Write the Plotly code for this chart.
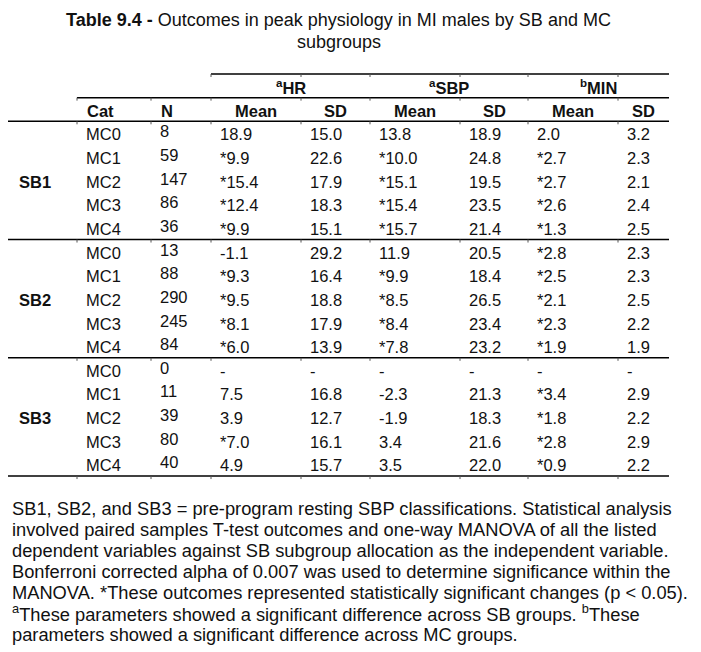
import plotly.graph_objects as go

# ---------------- data ----------------
title_bold = "Table 9.4 -"
title_rest = " Outcomes in peak physiology in MI males by SB and MC"
title_line2 = "subgroups"

sb_groups = ["SB1", "SB2", "SB3"]
cats = ["MC0", "MC1", "MC2", "MC3", "MC4"]
n_vals = [[8, 59, 147, 86, 36], [13, 88, 290, 245, 84], [0, 11, 39, 80, 40]]

hr_mean = [[18.9, 9.9, 15.4, 12.4, 9.9], [-1.1, 9.3, 9.5, 8.1, 6.0], [None, 7.5, 3.9, 7.0, 4.9]]
hr_sig = [[0, 1, 1, 1, 1], [0, 1, 1, 1, 1], [0, 0, 0, 1, 0]]
hr_sd = [[15.0, 22.6, 17.9, 18.3, 15.1], [29.2, 16.4, 18.8, 17.9, 13.9], [None, 16.8, 12.7, 16.1, 15.7]]

sbp_mean = [[13.8, 10.0, 15.1, 15.4, 15.7], [11.9, 9.9, 8.5, 8.4, 7.8], [None, -2.3, -1.9, 3.4, 3.5]]
sbp_sig = [[0, 1, 1, 1, 1], [0, 1, 1, 1, 1], [0, 0, 0, 0, 0]]
sbp_sd = [[18.9, 24.8, 19.5, 23.5, 21.4], [20.5, 18.4, 26.5, 23.4, 23.2], [None, 21.3, 18.3, 21.6, 22.0]]

min_mean = [[2.0, 2.7, 2.7, 2.6, 1.3], [2.8, 2.5, 2.1, 2.3, 1.9], [None, 3.4, 1.8, 2.8, 0.9]]
min_sig = [[0, 1, 1, 1, 1], [1, 1, 1, 1, 1], [0, 1, 1, 1, 1]]
min_sd = [[3.2, 2.3, 2.1, 2.4, 2.5], [2.3, 2.3, 2.5, 2.2, 1.9], [None, 2.9, 2.2, 2.9, 2.2]]

group_headers = [("a", "HR"), ("a", "SBP"), ("b", "MIN")]
col_headers = ["Cat", "N", "Mean", "SD", "Mean", "SD", "Mean", "SD"]

footnote_lines = [
    "SB1, SB2, and SB3 = pre-program resting SBP classifications. Statistical analysis",
    "involved paired samples T-test outcomes and one-way MANOVA of all the listed",
    "dependent variables against SB subgroup allocation as the independent variable.",
    "Bonferroni corrected alpha of 0.007 was used to determine significance within the",
    "MANOVA. *These outcomes represented statistically significant changes (p < 0.05).",
    "<sup>a</sup>These parameters showed a significant difference across SB groups. <sup>b</sup>These",
    "parameters showed a significant difference across MC groups.",
]

# ---------------- layout / style ----------------
W, H = 701, 652
OFF = 8  # page body margin in the browser
FONT = "Liberation Sans, Arial, sans-serif"
TXT = "#111111"
BODY = 16.5
col_edges = [7, 77, 151, 211, 301, 370, 460, 528, 618, 669]
pad = 7
top = 74.0
row_h = 23.65
text_off = 1.2


def row_center(k):
    return top + (k + 0.5) * row_h + text_off


def line_y(k):
    return top + k * row_h


def fmt(v, sig=0):
    if v is None:
        return "-"
    return ("*" if sig else "") + f"{v:.1f}"


fig = go.Figure()
fig.add_trace(go.Scatter(x=[OFF + 1], y=[OFF + 1], mode="markers",
                         marker=dict(opacity=0), hoverinfo="skip"))

ann = []


def add_text(x, y, text, size=BODY, xanchor="left", yshift=0):
    ann.append(dict(x=x, y=y, xref="x", yref="y", text=text, showarrow=False,
                    xanchor=xanchor, yanchor="middle", yshift=yshift,
                    font=dict(family=FONT, size=size, color=TXT)))


# title
add_text(338, 20, f"<b>{title_bold}</b>{title_rest}", size=18, xanchor="center")
add_text(339, 42, title_line2, size=18, xanchor="center")

# group headers (row 0)
for g, (sup, name) in enumerate(group_headers):
    x0, x1 = col_edges[3 + 2 * g], col_edges[5 + 2 * g]
    add_text((x0 + x1) / 2, row_center(0), f"<b><sup>{sup}</sup>{name}</b>", xanchor="center")

# column headers (row 1)
for c, h in enumerate(col_headers):
    x0, x1 = col_edges[1 + c], col_edges[2 + c]
    if c < 2:
        add_text(x0 + pad + 1, row_center(1), f"<b>{h}</b>")
    else:
        add_text((x0 + x1) / 2, row_center(1), f"<b>{h}</b>", xanchor="center")

# body
for g, sb in enumerate(sb_groups):
    base = 2 + g * len(cats)
    add_text(col_edges[0] + 10, row_center(base + 2), f"<b>{sb}</b>")
    for r, cat in enumerate(cats):
        k = base + r
        yc = row_center(k)
        cells = [
            cat,
            str(n_vals[g][r]),
            fmt(hr_mean[g][r], hr_sig[g][r]),
            fmt(hr_sd[g][r]),
            fmt(sbp_mean[g][r], sbp_sig[g][r]),
            fmt(sbp_sd[g][r]),
            fmt(min_mean[g][r], min_sig[g][r]),
            fmt(min_sd[g][r]),
        ]
        for c, t in enumerate(cells):
            add_text(col_edges[1 + c] + pad, yc, t, yshift=(3 if c == 1 else 0))

# footnote
for i, line in enumerate(footnote_lines):
    add_text(10, 508 + 21 * i, line, size=18.3)

# rules
shapes = []
rules = [(0, col_edges[3]), (1, col_edges[1]), (2, col_edges[0])]
rules += [(2 + (g + 1) * len(cats), col_edges[0]) for g in range(len(sb_groups))]
for k, x0 in rules:
    y = line_y(k)
    shapes.append(dict(type="line", xref="x", yref="y", x0=x0, x1=col_edges[-1],
                       y0=y, y1=y, line=dict(color="#000000", width=1.5)))
    # small cell-border ticks under each rule
    for xe in col_edges[1:-1]:
        if xe >= x0:
            shapes.append(dict(type="line", xref="x", yref="y", x0=xe, x1=xe,
                               y0=y, y1=y + 3, line=dict(color="#555555", width=1)))

fig.update_layout(
    width=W - OFF, height=H - OFF,
    margin=dict(l=0, r=0, t=0, b=0),
    paper_bgcolor="white", plot_bgcolor="white",
    xaxis=dict(range=[OFF, W], visible=False, fixedrange=True),
    yaxis=dict(range=[H, OFF], visible=False, fixedrange=True),
    showlegend=False,
    annotations=ann,
    shapes=shapes,
)

fig.write_html("out.html")
